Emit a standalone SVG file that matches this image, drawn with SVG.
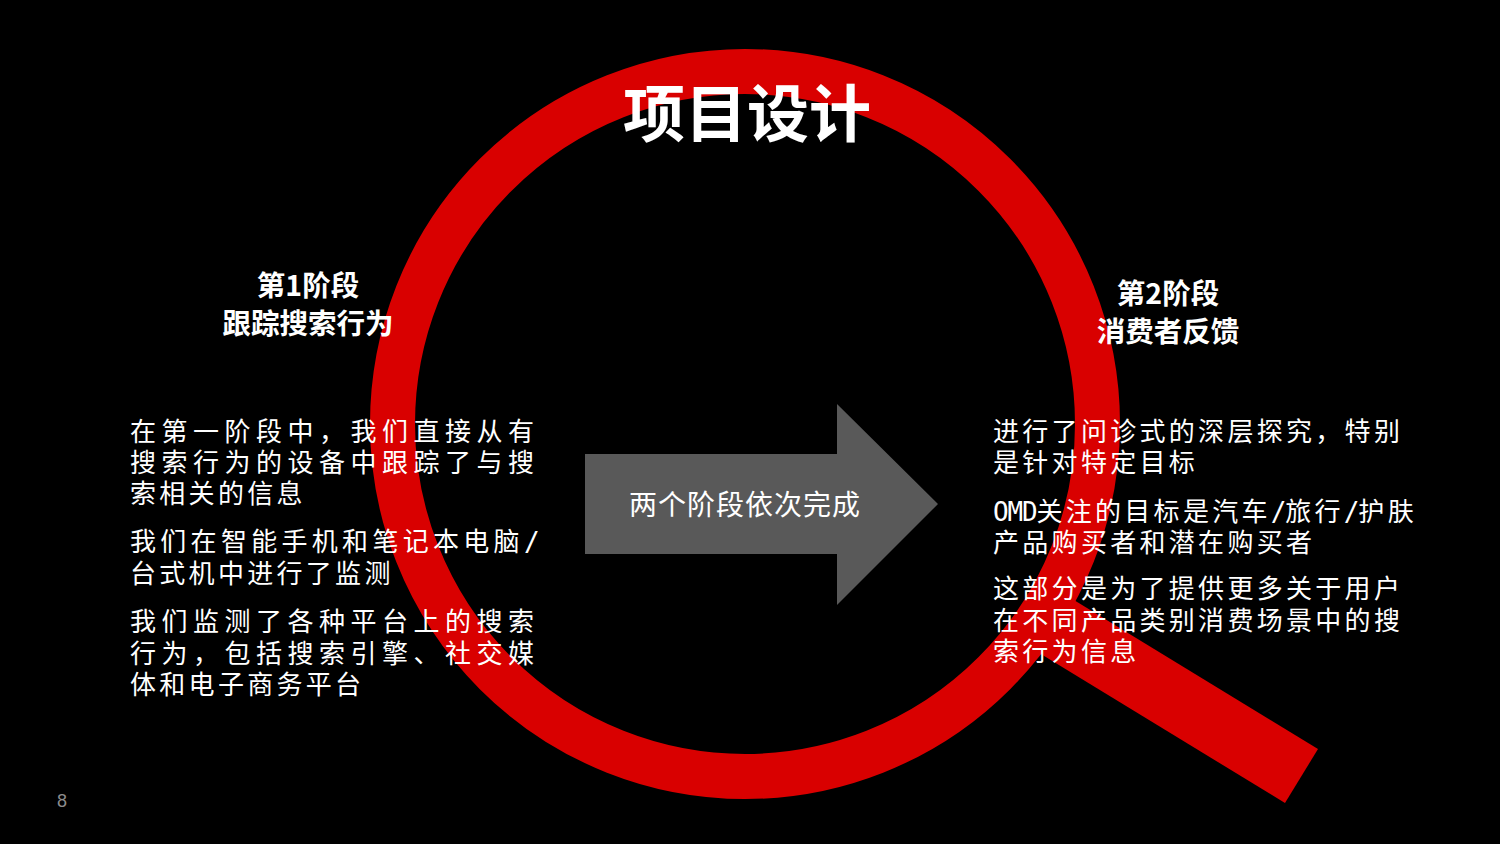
<svg xmlns="http://www.w3.org/2000/svg" width="1500" height="844" viewBox="0 0 1500 844">
  <style>
    .cjk { font-family: "Noto Sans CJK SC", "Noto Sans", sans-serif; fill: #ffffff; }
    .title { font-size: 62px; font-weight: bold; }
    .head { font-size: 28.5px; font-weight: bold; text-anchor: middle; }
    .body { font-size: 26px; letter-spacing: 3.3px; }
    .just { letter-spacing: 5.5px; }
    .mid { letter-spacing: 4.3px; }
    .mono { font-family: "DejaVu Sans Mono", monospace; font-size: 26px; letter-spacing: -1.2px; }
    .arrowtxt { font-size: 28px; letter-spacing: 1px; text-anchor: middle; }
    .red { fill: #d90000; }
  </style>
  <rect width="1500" height="844" fill="#000000"/>

  <g id="magnifier">
    <circle cx="745" cy="424" r="352.5" fill="none" stroke="#d90000" stroke-width="45"/>
    <polygon class="red" points="1062,592.7 1318,749 1285,803 1029,646.7"/>
  </g>

  <g id="stage-arrow">
    <polygon points="585,454 837,454 837,404 938,504 837,605 837,554 585,554" fill="#595959"/>
    <text class="cjk arrowtxt" x="745" y="515">两个阶段依次完成</text>
  </g>

  <g id="title">
    <text class="cjk title" x="747" y="137" text-anchor="middle">项目设计</text>
  </g>

  <g id="stage1">
    <text class="cjk head"><tspan x="308" y="296">第1阶段</tspan><tspan x="308" y="334">跟踪搜索行为</tspan></text>
    <text class="cjk body"><tspan class="just" x="130" y="441">在第一阶段中，我们直接从有</tspan><tspan class="just" x="130" y="472">搜索行为的设备中跟踪了与搜</tspan><tspan x="130" y="503">索相关的信息</tspan></text>
    <text class="cjk body"><tspan class="mid" x="130" y="551">我们在智能手机和笔记本电脑</tspan><tspan class="mono">/</tspan><tspan x="130" y="583">台式机中进行了监测</tspan></text>
    <text class="cjk body"><tspan class="just" x="130" y="631">我们监测了各种平台上的搜索</tspan><tspan class="just" x="130" y="663">行为，包括搜索引擎、社交媒</tspan><tspan x="130" y="694">体和电子商务平台</tspan></text>
  </g>

  <g id="stage2">
    <text class="cjk head"><tspan x="1168" y="304">第2阶段</tspan><tspan x="1168" y="342">消费者反馈</tspan></text>
    <text class="cjk body"><tspan x="993" y="441">进行了问诊式的深层探究，特别</tspan><tspan x="993" y="472">是针对特定目标</tspan></text>
    <text class="cjk body"><tspan class="mono" x="993" y="521">OMD</tspan>关注的目标是汽车<tspan class="mono">/</tspan>旅行<tspan class="mono">/</tspan>护肤<tspan x="993" y="552">产品购买者和潜在购买者</tspan></text>
    <text class="cjk body"><tspan x="993" y="598">这部分是为了提供更多关于用户</tspan><tspan x="993" y="630">在不同产品类别消费场景中的搜</tspan><tspan x="993" y="661">索行为信息</tspan></text>
  </g>

  <g id="connectors"></g>

  <text x="57" y="807" font-family="Liberation Sans, sans-serif" font-size="18" fill="#8c8c8c">8</text>
</svg>
